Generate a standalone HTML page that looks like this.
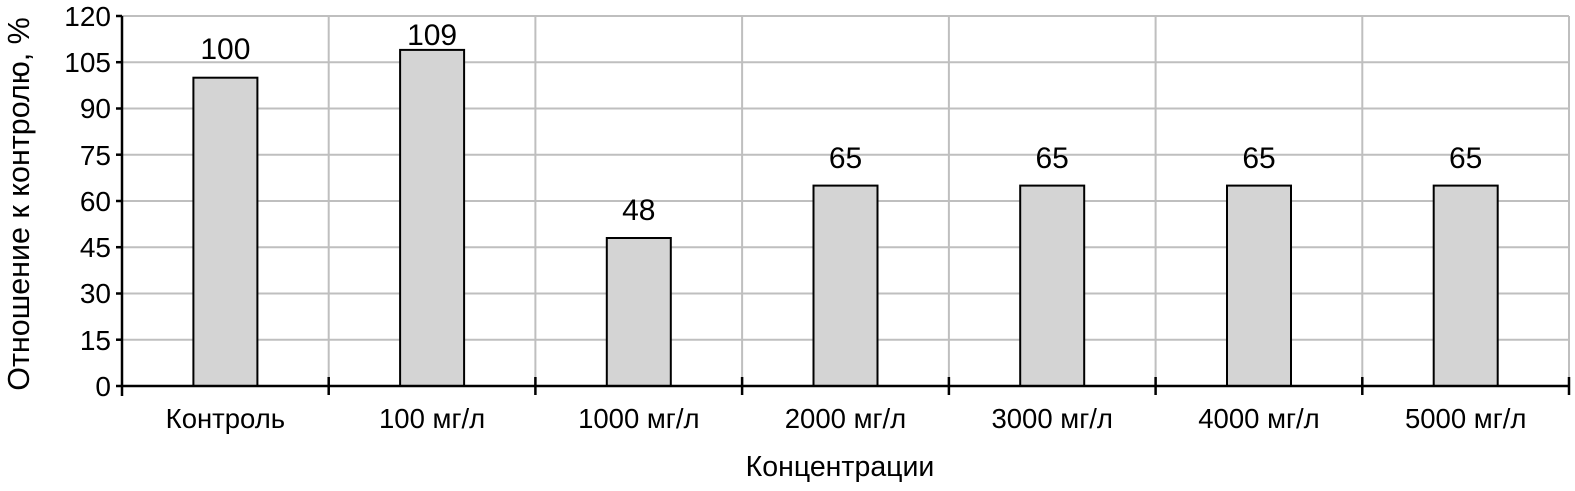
<!DOCTYPE html>
<html><head><meta charset="utf-8"><style>
html,body{margin:0;padding:0;background:#fff;}
svg text{font-family:"Liberation Sans",Arial,sans-serif;fill:#000;}
</style></head><body>
<svg width="1575" height="486" xmlns="http://www.w3.org/2000/svg">
<g stroke="#bfbfbf" stroke-width="2">
<line x1="122" y1="16" x2="1569" y2="16"/>
<line x1="122" y1="62.2" x2="1569" y2="62.2"/>
<line x1="122" y1="108.5" x2="1569" y2="108.5"/>
<line x1="122" y1="154.7" x2="1569" y2="154.7"/>
<line x1="122" y1="201" x2="1569" y2="201"/>
<line x1="122" y1="247.2" x2="1569" y2="247.2"/>
<line x1="122" y1="293.5" x2="1569" y2="293.5"/>
<line x1="122" y1="339.7" x2="1569" y2="339.7"/>
<line x1="328.7" y1="16" x2="328.7" y2="386"/>
<line x1="535.4" y1="16" x2="535.4" y2="386"/>
<line x1="742.1" y1="16" x2="742.1" y2="386"/>
<line x1="948.9" y1="16" x2="948.9" y2="386"/>
<line x1="1155.6" y1="16" x2="1155.6" y2="386"/>
<line x1="1362.3" y1="16" x2="1362.3" y2="386"/>
<line x1="1569" y1="16" x2="1569" y2="386"/>
</g>
<g fill="#d4d4d4" stroke="#000" stroke-width="2">
<rect x="193.4" y="77.7" width="64" height="308.3"/>
<rect x="400.1" y="49.9" width="64" height="336.1"/>
<rect x="606.8" y="238" width="64" height="148"/>
<rect x="813.5" y="185.6" width="64" height="200.4"/>
<rect x="1020.2" y="185.6" width="64" height="200.4"/>
<rect x="1227" y="185.6" width="64" height="200.4"/>
<rect x="1433.7" y="185.6" width="64" height="200.4"/>
</g>
<g stroke="#000" stroke-width="2.5">
<line x1="122" y1="16" x2="122" y2="396"/>
<line x1="116" y1="386" x2="1569" y2="386"/>
<line x1="116" y1="16" x2="122" y2="16"/><line x1="116" y1="62.2" x2="122" y2="62.2"/><line x1="116" y1="108.5" x2="122" y2="108.5"/><line x1="116" y1="154.7" x2="122" y2="154.7"/><line x1="116" y1="201" x2="122" y2="201"/><line x1="116" y1="247.2" x2="122" y2="247.2"/><line x1="116" y1="293.5" x2="122" y2="293.5"/><line x1="116" y1="339.7" x2="122" y2="339.7"/>
<line x1="328.7" y1="377" x2="328.7" y2="395"/><line x1="535.4" y1="377" x2="535.4" y2="395"/><line x1="742.1" y1="377" x2="742.1" y2="395"/><line x1="948.9" y1="377" x2="948.9" y2="395"/><line x1="1155.6" y1="377" x2="1155.6" y2="395"/><line x1="1362.3" y1="377" x2="1362.3" y2="395"/><line x1="1569" y1="377" x2="1569" y2="395"/>
</g>
<g font-size="28" text-anchor="end">
<text x="111" y="26">120</text><text x="111" y="72">105</text><text x="111" y="118">90</text><text x="111" y="165">75</text><text x="111" y="211">60</text><text x="111" y="257">45</text><text x="111" y="303">30</text><text x="111" y="350">15</text><text x="111" y="396">0</text>
</g>
<g font-size="30" text-anchor="middle">
<text x="225.4" y="59">100</text><text x="432.1" y="45">109</text><text x="638.8" y="220">48</text><text x="845.5" y="168">65</text><text x="1052.2" y="168">65</text><text x="1259" y="168">65</text><text x="1465.7" y="168">65</text>
</g>
<g font-size="27.5" text-anchor="middle">
<text x="225.4" y="428">Контроль</text><text x="432.1" y="428">100 мг/л</text><text x="638.8" y="428">1000 мг/л</text><text x="845.5" y="428">2000 мг/л</text><text x="1052.2" y="428">3000 мг/л</text><text x="1259" y="428">4000 мг/л</text><text x="1465.7" y="428">5000 мг/л</text>
<text x="840" y="476" font-size="28.5">Концентрации</text>
<text transform="translate(29,204) rotate(-90)" font-size="30.5">Отношение к контролю, %</text>
</g>
</svg>
</body></html>
